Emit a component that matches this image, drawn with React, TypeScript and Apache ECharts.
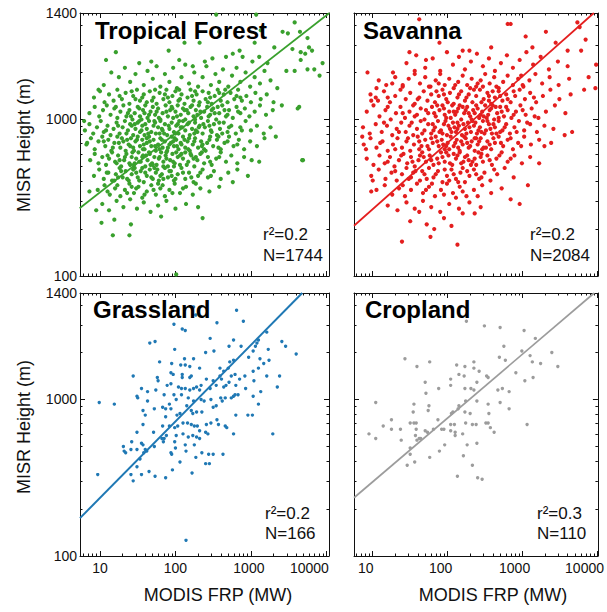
import React, { useEffect, useRef } from "react";
import * as echarts from "echarts";

// Every point is [log10 MODIS FRP (MW), log10 MISR height (m)].
const tropicalForest: number[][] = [
  [2.54,3.67],[3.07,3.67],[3.58,3.62],[2.58,3.56],[3.13,3.57],[3.42,3.56],[3.49,3.55],[3.65,3.56],[3.75,3.52],[3.77,3.46],[3.81,3.44],[3.95,3.36],[3.84,3.32],[3.75,3.32],[3.91,3.28],[3.64,3.08],[3.68,2.74],
  [3.05,3.49],[3.31,3.46],[3.55,3.45],[3.66,3.43],[3.72,3.42],[2.12,3.49],[2.32,3.49],[2.49,3.39],[2.67,3.40],[2.76,3.42],[2.85,3.44],[2.89,3.40],[3.02,3.37],[3.11,3.40],[3.22,3.36],[3.47,3.31],[3.58,3.31],[3.66,3.38],[1.21,3.43],[1.08,3.38],[1.68,3.37],[1.91,3.44],[2.05,3.38],[2.23,3.34],
  [3.41,3.09],[3.62,3.07],[3.33,2.89],[3.69,2.74],[3.11,2.73],[2.96,2.64],[2.76,2.60],[0.79,2.99],[0.83,2.85],[0.86,2.54],[0.95,2.42],[1.02,2.34],[1.19,2.36],[1.17,2.26],[1.39,2.26],[1.41,2.33],[1.81,2.38],[2.36,2.37],[2.01,2.01],
  [1.15,3.30],[1.25,3.27],[1.33,3.33],[1.40,3.24],[1.47,3.29],[1.52,3.36],[1.58,3.22],[1.63,3.31],[1.70,3.26],[1.75,3.34],[1.80,3.21],[1.86,3.29],[1.92,3.24],[1.97,3.33],[2.02,3.20],[2.08,3.27],[2.13,3.35],[2.18,3.23],[2.25,3.30],[2.30,3.21],[2.36,3.27],[2.41,3.34],[2.47,3.22],[2.53,3.29],[2.58,3.24],[2.63,3.32],[2.70,3.21],[2.75,3.28],[2.81,3.33],[2.86,3.24],[2.93,3.30],[2.99,3.21],[3.05,3.27],[3.12,3.23],[3.18,3.31],[3.26,3.25],[3.35,3.20],[1.05,3.22],[0.98,3.19],[2.39,3.37],
  [0.92,3.14],[1.00,3.18],[1.06,3.11],[1.12,3.16],[1.18,3.12],[1.23,3.19],[1.29,3.13],[1.34,3.17],[1.39,3.10],[1.44,3.15],[1.49,3.19],[1.53,3.12],[1.58,3.16],[1.62,3.11],[1.66,3.18],[1.71,3.14],[1.75,3.10],[1.79,3.17],[1.84,3.13],[1.88,3.19],[1.92,3.11],[1.96,3.15],[2.00,3.18],[2.04,3.12],[2.08,3.16],[2.12,3.10],[2.16,3.14],[2.20,3.19],[2.24,3.12],[2.28,3.16],[2.32,3.11],[2.36,3.18],[2.40,3.13],[2.44,3.17],[2.48,3.10],[2.52,3.15],[2.56,3.19],[2.60,3.12],[2.64,3.16],[2.69,3.11],[2.73,3.17],[2.78,3.13],[2.83,3.19],[2.88,3.12],[2.94,3.15],[3.00,3.11],[3.06,3.17],[3.13,3.13],[3.21,3.16],[3.30,3.11],[1.47,3.13],[1.86,3.16],[2.22,3.15],[2.58,3.17],[1.69,3.12],[2.05,3.19],[2.43,3.11],[2.81,3.15],
  [0.86,3.04],[0.93,3.08],[0.99,3.02],[1.04,3.06],[1.09,3.09],[1.14,3.03],[1.19,3.07],[1.23,3.01],[1.27,3.05],[1.31,3.09],[1.35,3.02],[1.39,3.06],[1.43,3.00],[1.46,3.04],[1.50,3.08],[1.53,3.02],[1.57,3.06],[1.60,3.09],[1.63,3.01],[1.67,3.05],[1.70,3.08],[1.73,3.03],[1.77,3.07],[1.80,3.00],[1.83,3.04],[1.87,3.09],[1.90,3.02],[1.93,3.06],[1.97,3.01],[2.00,3.05],[2.03,3.09],[2.07,3.03],[2.10,3.07],[2.13,3.00],[2.17,3.04],[2.20,3.08],[2.24,3.02],[2.27,3.06],[2.31,3.09],[2.34,3.01],[2.38,3.05],[2.42,3.08],[2.46,3.03],[2.50,3.07],[2.54,3.00],[2.58,3.04],[2.62,3.09],[2.67,3.02],[2.71,3.06],[2.76,3.01],[2.81,3.08],[2.86,3.04],[2.92,3.07],[2.98,3.02],[3.05,3.05],[3.12,3.09],[3.20,3.03],[3.29,3.06],[1.55,3.00],[1.95,3.08],[2.29,3.03],[2.65,3.06],[1.75,3.05],[2.15,3.06],[2.52,3.04],[1.37,3.04],
  [0.80,2.93],[0.86,2.97],[0.91,2.91],[0.96,2.95],[1.01,2.99],[1.05,2.92],[1.10,2.96],[1.14,2.90],[1.18,2.94],[1.22,2.98],[1.26,2.91],[1.30,2.95],[1.33,2.99],[1.37,2.93],[1.40,2.97],[1.44,2.90],[1.47,2.94],[1.50,2.98],[1.53,2.92],[1.56,2.96],[1.59,2.90],[1.62,2.94],[1.65,2.99],[1.68,2.92],[1.71,2.96],[1.74,2.91],[1.77,2.95],[1.80,2.99],[1.83,2.93],[1.86,2.97],[1.89,2.90],[1.92,2.94],[1.95,2.98],[1.98,2.92],[2.01,2.96],[2.04,2.91],[2.07,2.95],[2.10,2.99],[2.13,2.93],[2.16,2.97],[2.19,2.90],[2.22,2.94],[2.26,2.98],[2.29,2.92],[2.32,2.96],[2.36,2.91],[2.39,2.95],[2.43,2.99],[2.47,2.93],[2.51,2.97],[2.55,2.90],[2.59,2.94],[2.64,2.98],[2.69,2.92],[2.74,2.96],[2.80,2.91],[2.86,2.95],[2.93,2.99],[3.00,2.93],[3.08,2.96],[3.17,2.91],[3.26,2.95],[1.60,2.97],[1.85,2.91],[2.05,2.99],[2.25,2.91],[2.45,2.96],[1.42,2.96],[2.62,2.91],[1.72,2.99],
  [0.82,2.84],[0.88,2.88],[0.93,2.81],[0.98,2.86],[1.03,2.89],[1.07,2.83],[1.11,2.87],[1.15,2.80],[1.19,2.85],[1.23,2.89],[1.27,2.82],[1.31,2.86],[1.34,2.80],[1.38,2.84],[1.41,2.88],[1.44,2.82],[1.47,2.86],[1.50,2.89],[1.53,2.83],[1.56,2.87],[1.59,2.81],[1.62,2.85],[1.65,2.89],[1.68,2.83],[1.71,2.87],[1.74,2.80],[1.77,2.84],[1.80,2.88],[1.83,2.82],[1.86,2.86],[1.89,2.80],[1.92,2.84],[1.95,2.89],[1.98,2.83],[2.01,2.87],[2.04,2.81],[2.07,2.85],[2.10,2.89],[2.13,2.82],[2.16,2.86],[2.19,2.80],[2.23,2.84],[2.26,2.88],[2.30,2.82],[2.34,2.86],[2.38,2.81],[2.42,2.85],[2.46,2.89],[2.50,2.83],[2.55,2.87],[2.60,2.81],[2.65,2.85],[2.71,2.89],[2.77,2.83],[2.84,2.87],[2.91,2.81],[2.99,2.86],[3.08,2.83],[3.18,2.88],[1.36,2.87],[1.58,2.84],[1.79,2.81],[1.97,2.86],[2.18,2.88],[2.36,2.84],[2.57,2.89],[1.25,2.85],[2.02,2.83],
  [0.87,2.74],[0.93,2.78],[0.98,2.72],[1.03,2.76],[1.08,2.71],[1.12,2.75],[1.16,2.79],[1.20,2.73],[1.24,2.77],[1.28,2.70],[1.32,2.74],[1.35,2.78],[1.39,2.72],[1.42,2.76],[1.45,2.71],[1.48,2.75],[1.51,2.79],[1.54,2.73],[1.57,2.77],[1.60,2.70],[1.63,2.74],[1.66,2.78],[1.69,2.72],[1.72,2.76],[1.75,2.71],[1.78,2.75],[1.81,2.79],[1.84,2.73],[1.87,2.77],[1.90,2.70],[1.93,2.74],[1.96,2.78],[1.99,2.72],[2.03,2.76],[2.06,2.71],[2.10,2.75],[2.13,2.79],[2.17,2.73],[2.21,2.77],[2.25,2.70],[2.29,2.74],[2.33,2.78],[2.38,2.72],[2.43,2.76],[2.48,2.71],[2.54,2.75],[2.60,2.79],[2.67,2.73],[2.74,2.77],[2.82,2.72],[2.91,2.76],[3.01,2.74],[1.46,2.72],[1.67,2.71],[1.88,2.75],[2.08,2.78],[2.27,2.76],[1.26,2.74],[1.56,2.76],[1.98,2.70],
  [0.92,2.64],[0.99,2.68],[1.05,2.62],[1.11,2.66],[1.16,2.61],[1.21,2.65],[1.26,2.69],[1.30,2.63],[1.34,2.67],[1.38,2.61],[1.42,2.65],[1.46,2.69],[1.50,2.63],[1.54,2.67],[1.58,2.60],[1.62,2.64],[1.66,2.68],[1.70,2.62],[1.74,2.66],[1.78,2.61],[1.82,2.65],[1.86,2.69],[1.90,2.63],[1.94,2.67],[1.98,2.61],[2.03,2.65],[2.08,2.69],[2.13,2.62],[2.18,2.66],[2.24,2.60],[2.30,2.64],[2.36,2.68],[2.43,2.63],[2.51,2.67],[2.60,2.62],[2.70,2.66],[2.82,2.68],[1.48,2.66],[1.72,2.69],[1.95,2.64],[1.24,2.63],
  [0.97,2.55],[1.06,2.58],[1.13,2.52],[1.20,2.56],[1.27,2.51],[1.33,2.55],[1.39,2.59],[1.45,2.53],[1.51,2.57],[1.56,2.50],[1.62,2.54],[1.68,2.58],[1.74,2.52],[1.80,2.56],[1.86,2.51],[1.92,2.55],[1.99,2.59],[2.06,2.53],[2.14,2.57],[2.23,2.52],[2.33,2.56],[2.45,2.54],[2.58,2.57],[1.42,2.57],[1.77,2.59],
  [1.03,2.46],[1.12,2.42],[1.22,2.48],[1.31,2.44],[1.40,2.49],[1.49,2.43],[1.58,2.47],[1.67,2.41],[1.77,2.45],[1.88,2.48],[2.00,2.43],[2.14,2.46],[2.30,2.44],
  [1.21,3.08],[1.41,3.02],[1.52,3.07],[1.65,3.03],[1.78,3.01],[1.88,3.05],[2.02,3.02],[2.12,3.06],[2.22,3.09],[2.33,3.05],[2.44,3.02],[2.56,3.08],[2.69,3.03],[2.83,3.05],[1.59,3.04],[1.96,3.07],[2.26,3.00],[2.48,3.06],
  [1.08,2.93],[1.24,2.96],[1.35,2.91],[1.46,2.97],[1.55,2.93],[1.64,2.91],[1.73,2.98],[1.82,2.94],[1.91,2.96],[2.00,2.91],[2.09,2.95],[2.18,2.98],[2.27,2.93],[2.37,2.97],[2.48,2.92],[2.58,2.98],[2.71,2.95],[2.88,2.93],[1.52,2.99],[1.79,2.91],[2.03,2.97],[2.31,2.95],
  [1.05,2.86],[1.17,2.82],[1.29,2.88],[1.40,2.83],[1.49,2.87],[1.57,2.81],[1.66,2.86],[1.73,2.83],[1.82,2.87],[1.90,2.82],[1.99,2.88],[2.08,2.84],[2.17,2.81],[2.25,2.86],[2.35,2.83],[2.45,2.87],[2.57,2.82],[2.69,2.86],[2.82,2.84],[1.45,2.80],[1.94,2.85],[2.12,2.87],[1.62,2.88],[2.40,2.80],
  [1.10,2.77],[1.22,2.72],[1.33,2.76],[1.43,2.79],[1.52,2.73],[1.61,2.77],[1.70,2.71],[1.79,2.76],[1.88,2.79],[1.97,2.73],[2.06,2.77],[2.15,2.71],[2.24,2.75],[2.35,2.79],[2.46,2.73],[2.58,2.76],[1.40,2.71],[1.84,2.70],[2.01,2.79],[1.65,2.79],[2.20,2.78],
  [1.09,2.66],[1.19,2.61],[1.28,2.67],[1.36,2.62],[1.44,2.68],[1.52,2.61],[1.60,2.66],[1.68,2.63],[1.76,2.68],[1.84,2.62],[1.92,2.67],[2.00,2.62],[2.10,2.66],[2.21,2.63],[2.33,2.66],[2.47,2.64],[1.56,2.69],[1.80,2.64],
  [1.10,2.54],[1.23,2.58],[1.36,2.53],[1.48,2.56],[1.59,2.52],[1.71,2.55],[1.83,2.58],[1.96,2.53],[2.10,2.56],[2.27,2.59],
  [1.26,3.15],[1.42,3.18],[1.56,3.14],[1.73,3.19],[1.90,3.14],[2.06,3.13],[2.26,3.18],[2.46,3.14],[2.66,3.19],[2.86,3.14]
];

const savanna: number[][] = [
  [1.39,2.22],[2.13,2.20],[1.77,2.25],[1.82,2.30],[2.20,2.40],[2.36,2.40],[0.93,3.30],[0.86,2.89],[0.91,2.81],[0.98,2.54],[1.00,2.61],[2.80,3.61],[2.84,3.61],[1.62,3.64],[3.31,3.56],[3.73,3.62],[3.76,3.59],[3.78,3.44],[3.98,3.35],[3.97,3.20],[3.88,3.27],[3.82,3.19],[3.66,2.92],[3.56,2.90],[3.29,2.83],[3.22,2.72],[3.07,2.58],[2.96,2.46],[2.84,2.49],[1.49,3.43],[1.71,3.38],[1.56,3.31],[1.27,3.30],[1.26,3.23],[1.04,3.14],[0.98,3.12],[1.05,3.20],[1.20,3.14],[3.61,3.69],[1.89,3.49],[2.29,3.44],[2.58,3.46],[3.04,3.53],[3.13,3.46],[3.44,3.49],[3.60,3.44],[3.84,3.51],
  [1.45,3.36],[1.58,3.41],[1.70,3.33],[1.80,3.39],[1.90,3.31],[1.99,3.43],[2.07,3.35],[2.15,3.40],[2.23,3.32],[2.31,3.37],[2.39,3.42],[2.47,3.34],[2.55,3.39],[2.63,3.31],[2.71,3.36],[2.79,3.41],[2.87,3.33],[2.96,3.38],[3.05,3.43],[3.14,3.35],[3.24,3.40],[3.35,3.32],[3.47,3.37],[3.60,3.34],[2.20,3.44],
  [1.08,3.25],[1.18,3.22],[1.30,3.27],[1.40,3.21],[1.48,3.26],[1.56,3.29],[1.63,3.23],[1.70,3.27],[1.77,3.21],[1.84,3.25],[1.90,3.29],[1.96,3.22],[2.02,3.26],[2.08,3.20],[2.14,3.24],[2.20,3.28],[2.26,3.22],[2.32,3.26],[2.38,3.21],[2.44,3.25],[2.50,3.29],[2.56,3.23],[2.62,3.27],[2.68,3.20],[2.74,3.24],[2.80,3.28],[2.87,3.22],[2.94,3.26],[3.01,3.21],[3.09,3.25],[3.17,3.29],[3.26,3.23],[3.36,3.27],[3.48,3.22],[3.62,3.26],[2.47,3.21],[1.88,3.23],[2.98,3.28],
  [0.97,3.16],[1.07,3.12],[1.15,3.18],[1.23,3.11],[1.30,3.15],[1.37,3.19],[1.44,3.13],[1.50,3.17],[1.56,3.10],[1.62,3.14],[1.68,3.18],[1.73,3.12],[1.78,3.16],[1.83,3.11],[1.88,3.15],[1.93,3.19],[1.98,3.13],[2.03,3.17],[2.08,3.10],[2.13,3.14],[2.18,3.18],[2.23,3.12],[2.28,3.16],[2.33,3.11],[2.38,3.15],[2.43,3.19],[2.48,3.13],[2.53,3.17],[2.58,3.10],[2.63,3.14],[2.68,3.18],[2.73,3.12],[2.78,3.16],[2.84,3.11],[2.90,3.15],[2.96,3.19],[3.03,3.13],[3.10,3.17],[3.18,3.11],[3.27,3.15],[3.37,3.19],[3.49,3.13],[3.64,3.16],[2.35,3.19],[2.55,3.12],[2.00,3.11],[2.70,3.15],[1.85,3.18],[2.15,3.16],[2.45,3.11],[2.88,3.18],
  [0.92,3.05],[1.01,3.09],[1.09,3.02],[1.17,3.06],[1.24,3.00],[1.31,3.04],[1.37,3.08],[1.43,3.01],[1.49,3.05],[1.54,3.09],[1.59,3.03],[1.64,3.07],[1.69,3.00],[1.74,3.04],[1.79,3.08],[1.84,3.02],[1.89,3.06],[1.93,3.09],[1.98,3.01],[2.02,3.05],[2.06,3.09],[2.10,3.03],[2.14,3.07],[2.18,3.00],[2.22,3.04],[2.26,3.08],[2.30,3.02],[2.34,3.06],[2.38,3.09],[2.42,3.01],[2.46,3.05],[2.50,3.09],[2.54,3.03],[2.58,3.07],[2.62,3.00],[2.66,3.04],[2.70,3.08],[2.75,3.02],[2.80,3.06],[2.85,3.01],[2.91,3.05],[2.97,3.09],[3.04,3.03],[3.12,3.07],[3.21,3.01],[3.31,3.05],[3.43,3.09],[3.57,3.04],[2.24,3.06],[2.44,3.03],[2.64,3.08],[2.08,3.05],[1.86,3.09],[2.52,3.01],[2.36,3.04],[2.72,3.05],[1.96,3.03],[2.16,3.09],
  [0.87,2.95],[0.96,2.91],[1.04,2.97],[1.12,2.92],[1.19,2.96],[1.26,2.90],[1.32,2.94],[1.38,2.98],[1.44,2.92],[1.49,2.96],[1.54,2.90],[1.59,2.94],[1.64,2.99],[1.69,2.93],[1.74,2.97],[1.78,2.91],[1.83,2.95],[1.87,2.99],[1.91,2.93],[1.95,2.97],[1.99,2.90],[2.03,2.94],[2.07,2.98],[2.11,2.92],[2.15,2.96],[2.19,2.90],[2.23,2.94],[2.27,2.98],[2.31,2.92],[2.35,2.96],[2.39,2.91],[2.43,2.95],[2.47,2.99],[2.51,2.93],[2.55,2.97],[2.59,2.91],[2.63,2.95],[2.68,2.99],[2.73,2.93],[2.78,2.97],[2.83,2.91],[2.89,2.95],[2.95,2.99],[3.02,2.93],[3.10,2.97],[3.19,2.92],[3.29,2.96],[3.41,2.94],[2.21,2.97],[2.41,2.93],[2.61,2.97],[2.01,2.96],[1.81,2.93],[2.33,2.99],[2.49,2.91],[2.13,2.94],[1.93,2.91],[2.70,2.92],
  [0.88,2.84],[0.97,2.88],[1.05,2.82],[1.13,2.86],[1.20,2.80],[1.27,2.84],[1.33,2.88],[1.39,2.82],[1.45,2.86],[1.50,2.80],[1.55,2.84],[1.60,2.89],[1.65,2.83],[1.70,2.87],[1.75,2.81],[1.80,2.85],[1.84,2.89],[1.88,2.83],[1.92,2.87],[1.96,2.81],[2.00,2.85],[2.04,2.89],[2.08,2.83],[2.12,2.87],[2.16,2.80],[2.20,2.84],[2.24,2.88],[2.28,2.82],[2.32,2.86],[2.36,2.80],[2.40,2.84],[2.44,2.88],[2.48,2.82],[2.53,2.86],[2.58,2.81],[2.63,2.85],[2.68,2.89],[2.74,2.83],[2.80,2.87],[2.87,2.81],[2.94,2.85],[3.02,2.89],[3.11,2.84],[3.22,2.87],[3.38,2.85],[2.18,2.86],[2.38,2.88],[1.98,2.83],[2.56,2.84],[1.78,2.88],[2.26,2.85],[2.46,2.81],[1.62,2.81],
  [0.92,2.75],[1.01,2.71],[1.09,2.77],[1.16,2.72],[1.23,2.76],[1.29,2.70],[1.35,2.74],[1.41,2.78],[1.46,2.72],[1.51,2.76],[1.56,2.70],[1.61,2.74],[1.66,2.79],[1.71,2.73],[1.76,2.77],[1.81,2.71],[1.86,2.75],[1.91,2.79],[1.96,2.73],[2.01,2.77],[2.06,2.71],[2.11,2.75],[2.16,2.79],[2.21,2.73],[2.26,2.77],[2.31,2.71],[2.36,2.75],[2.41,2.79],[2.47,2.73],[2.53,2.77],[2.59,2.71],[2.65,2.75],[2.72,2.79],[2.80,2.73],[2.89,2.77],[2.99,2.72],[3.10,2.76],[1.88,2.72],[2.08,2.78],[2.28,2.74],[1.68,2.76],[2.44,2.76],[2.18,2.72],
  [0.98,2.64],[1.08,2.68],[1.17,2.62],[1.25,2.66],[1.32,2.61],[1.39,2.65],[1.45,2.69],[1.51,2.63],[1.57,2.67],[1.63,2.61],[1.69,2.65],[1.75,2.69],[1.81,2.63],[1.87,2.67],[1.93,2.60],[1.99,2.64],[2.05,2.68],[2.11,2.62],[2.17,2.66],[2.23,2.60],[2.29,2.64],[2.35,2.68],[2.42,2.62],[2.49,2.66],[2.57,2.61],[2.66,2.65],[2.76,2.69],[2.88,2.63],[1.72,2.62],[2.02,2.61],[2.20,2.69],[1.54,2.66],[2.38,2.65],
  [1.05,2.55],[1.16,2.58],[1.26,2.52],[1.35,2.56],[1.43,2.51],[1.51,2.55],[1.59,2.59],[1.67,2.53],[1.75,2.57],[1.83,2.51],[1.91,2.55],[1.99,2.59],[2.07,2.53],[2.16,2.57],[2.25,2.51],[2.35,2.55],[2.46,2.58],[2.58,2.53],[2.72,2.56],[1.79,2.59],[2.11,2.50],
  [1.20,2.45],[1.33,2.42],[1.45,2.47],[1.56,2.43],[1.67,2.48],[1.78,2.44],[1.90,2.41],[2.02,2.46],[2.15,2.43],[2.29,2.47],[2.44,2.44],[1.62,2.41],
  [1.50,2.35],[1.72,2.33],[1.95,2.37],[2.05,2.32],
  [1.40,3.22],[1.60,3.13],[1.75,3.21],[1.95,3.16],[2.10,3.22],[2.25,3.14],[2.40,3.23],[2.55,3.15],[2.65,3.21],[2.80,3.13],[3.00,3.22],[3.15,3.14],[2.30,3.20],[2.60,3.18],
  [1.20,3.08],[1.40,3.04],[1.56,3.02],[1.71,3.06],[1.82,3.04],[1.95,3.07],[2.04,3.01],[2.12,3.05],[2.20,3.08],[2.28,3.04],[2.40,3.07],[2.48,3.02],[2.56,3.06],[2.68,3.01],[2.78,3.08],[2.88,3.03],[3.00,3.06],[3.16,3.02],[2.32,3.00],[2.60,3.09],
  [1.15,2.98],[1.35,2.92],[1.52,2.98],[1.66,2.91],[1.80,2.97],[1.89,2.92],[1.97,2.99],[2.05,2.92],[2.13,2.98],[2.25,2.91],[2.37,2.98],[2.45,2.92],[2.53,2.99],[2.65,2.91],[2.76,2.95],[2.92,2.92],[3.06,2.98],[2.29,2.95],[2.57,2.94],[2.09,2.95],
  [1.10,2.85],[1.30,2.81],[1.47,2.88],[1.62,2.86],[1.73,2.83],[1.86,2.86],[1.94,2.84],[2.02,2.81],[2.10,2.85],[2.22,2.89],[2.30,2.83],[2.42,2.86],[2.51,2.82],[2.61,2.88],[2.71,2.85],[2.84,2.88],[2.98,2.83],[2.14,2.82],[2.36,2.88],
  [1.20,2.73],[1.38,2.77],[1.53,2.73],[1.63,2.77],[1.78,2.74],[1.93,2.76],[2.03,2.72],[2.13,2.77],[2.23,2.76],[2.33,2.73],[2.45,2.78],[2.56,2.74],[2.69,2.77],[2.84,2.75],[1.98,2.79],[2.38,2.71],
  [1.30,2.67],[1.48,2.62],[1.66,2.67],[1.84,2.65],[1.96,2.68],[2.08,2.65],[2.26,2.67],[2.45,2.63],[2.62,2.68],[2.14,2.60],
  [1.40,2.58],[1.71,2.55],[1.95,2.52],[2.20,2.54],[2.40,2.51]
];

const grassland: number[][] = [
  [2.24,3.59],[2.27,3.54],[2.81,3.57],[2.90,3.50],[1.98,3.48],[2.55,3.49],[2.09,3.45],[2.13,3.44],[1.66,3.36],[1.73,3.37],[2.46,3.39],[2.77,3.38],[3.21,3.43],[3.10,3.38],[3.41,3.37],[3.46,3.34],[3.60,3.29],[1.99,3.32],[2.40,3.30],[2.51,3.31],[2.71,3.34],[2.87,3.34],[3.06,3.34],[3.03,3.31],[3.08,3.36],[3.23,3.32],
  [2.12,3.26],[2.24,3.26],[2.77,3.25],[2.97,3.27],[3.12,3.26],[3.24,3.25],[3.17,3.23],[1.79,3.24],[1.95,3.23],[2.07,3.22],[2.13,3.22],[2.19,3.21],[2.32,3.20],[2.59,3.20],[2.70,3.20],[2.72,3.24],[1.44,3.15],[1.97,3.16],[2.09,3.16],[2.21,3.15],[2.09,3.14],[2.19,3.14],[2.64,3.18],[2.74,3.15],[2.79,3.16],[2.59,3.15],[2.61,3.13],[2.71,3.11],[2.85,3.13],[2.92,3.15],[3.03,3.18],[3.10,3.20],[3.21,3.15],[3.38,3.15],[3.04,3.12],
  [1.76,3.14],[1.77,3.12],[1.89,3.09],[1.94,3.10],[1.94,3.17],[2.04,3.08],[2.08,3.07],[2.13,3.07],[2.28,3.08],[2.24,3.07],[2.19,3.06],[2.41,3.13],[2.50,3.12],[1.55,3.07],[1.63,3.05],[1.74,3.06],[1.85,3.03],[1.98,3.03],[2.08,3.03],[2.17,3.01],[2.32,3.06],[2.34,3.09],[2.46,3.07],[2.54,3.09],[2.64,3.08],[2.67,3.09],[2.80,3.09],[2.74,3.01],[2.83,3.03],[2.93,3.07],[3.13,3.05],[3.35,3.08],
  [1.49,3.02],[1.50,3.01],[0.99,2.98],[1.19,2.97],[1.63,2.99],[1.92,2.97],[2.01,3.00],[2.15,2.96],[2.24,2.99],[2.34,3.00],[2.38,2.99],[2.47,3.00],[2.60,3.01],[2.77,3.02],[2.79,3.03],[3.03,3.02],
  [1.57,2.93],[1.60,2.90],[1.72,2.94],[1.83,2.95],[1.87,2.94],[1.94,2.94],[1.87,2.89],[2.02,2.90],[2.06,2.91],[2.21,2.93],[2.23,2.91],[2.28,2.92],[2.35,2.92],[2.50,2.95],[2.54,2.96],[2.62,2.99],[2.66,3.01],[2.80,2.90],[2.96,2.90],[3.02,2.90],[3.10,2.97],
  [1.49,2.79],[1.57,2.84],[1.71,2.79],[1.83,2.83],[1.92,2.83],[1.99,2.82],[2.03,2.83],[2.10,2.85],[2.16,2.85],[2.21,2.84],[2.25,2.83],[2.29,2.83],[2.32,2.80],[2.41,2.84],[2.47,2.85],[2.55,2.87],[2.57,2.84],[2.66,2.83],[2.68,2.82],[2.77,2.78],[3.29,2.78],
  [1.88,2.77],[2.01,2.77],[2.10,2.78],[2.17,2.76],[2.23,2.77],[2.28,2.76],[2.32,2.75],[2.40,2.79],[2.43,2.78],[1.82,2.75],[1.85,2.75],[1.84,2.73],
  [1.31,2.70],[1.32,2.67],[1.41,2.68],[1.42,2.73],[1.49,2.68],[1.55,2.72],[1.57,2.71],[1.58,2.66],[1.60,2.68],[1.62,2.67],[1.72,2.70],[1.99,2.73],[2.00,2.69],[2.13,2.71],[2.25,2.71],[2.35,2.66],[2.44,2.65],[2.50,2.65],[2.63,2.65],[1.94,2.66],[1.95,2.65],[2.14,2.67],[2.27,2.63],[2.40,2.59],[2.45,2.59],[2.06,2.60],
  [1.53,2.62],[1.49,2.57],[1.41,2.52],[1.55,2.52],[1.65,2.54],[1.73,2.51],[1.87,2.50],[1.96,2.55],[2.22,2.53],[1.44,2.48],[0.97,2.52],[2.14,2.10],[1.34,2.66]
];

const cropland: number[][] = [
  [2.25,3.50],[2.49,3.47],[2.70,3.46],[3.02,3.44],[3.17,3.39],[2.75,3.34],[2.99,3.31],[3.39,3.30],[3.10,3.28],[1.43,3.26],[1.76,3.24],[2.35,3.24],[2.69,3.27],[2.77,3.25],[3.13,3.24],[3.24,3.23],[3.47,3.21],
  [1.59,3.21],[2.12,3.22],[2.23,3.21],[2.35,3.20],[2.42,3.18],[2.15,3.16],[2.22,3.15],[2.52,3.15],[2.54,3.14],[2.91,3.17],[3.14,3.14],[3.03,3.12],[2.39,3.11],[2.04,3.13],[1.70,3.11],[1.88,3.07],[2.04,3.09],[2.23,3.07],[2.31,3.07],[2.35,3.06],[2.67,3.06],[2.73,3.07],[2.82,3.05],[1.71,3.04],
  [2.24,2.99],[2.39,2.99],[1.04,2.98],[1.55,2.97],[1.75,2.96],[1.54,2.92],[1.74,2.93],[2.07,2.92],[2.14,2.94],[2.54,2.97],[2.55,2.91],[2.70,2.98],[2.82,2.94],[2.05,2.91],[2.23,2.92],[2.15,2.96],[2.30,2.91],
  [1.50,2.85],[1.55,2.85],[1.58,2.85],[1.87,2.87],[2.04,2.84],[2.09,2.84],[2.24,2.85],[2.33,2.84],[2.38,2.84],[2.51,2.85],[2.54,2.85],[1.14,2.83],[1.25,2.87],[1.37,2.81],[1.25,2.81],[1.04,2.75],[0.95,2.78],[1.58,2.81],[1.70,2.80],[1.73,2.79],[1.81,2.81],[1.92,2.81],[1.95,2.81],[2.04,2.80],[2.10,2.79],[2.10,2.77],[2.20,2.78],[2.57,2.82],[2.62,2.79],[3.06,2.84],
  [1.38,2.74],[1.57,2.77],[1.59,2.74],[1.62,2.75],[1.64,2.75],[1.50,2.69],[1.50,2.65],[1.56,2.60],[1.46,2.58],[1.76,2.63],[1.89,2.67],[1.96,2.71],[2.21,2.64],[2.26,2.71],[2.33,2.58],[2.39,2.72],[2.13,2.51],[2.40,2.50],[2.46,2.49]
];

const panelNames = ["Tropical Forest", "Savanna", "Grassland", "Cropland"];
const panelData = [tropicalForest, savanna, grassland, cropland];
const panelColors = ["#39a02d", "#e41e1e", "#1f78b4", "#9c9c9c"];
const r2Values = ["0.2", "0.2", "0.2", "0.3"];
const nValues = ["1744", "2084", "166", "110"];

// Regression lines, endpoints in log10 units
const fitTropical = [[0.73, 2.433], [4.04, 3.68]];
const fitSavanna = [[0.75, 2.321], [3.95, 3.68]];
const fitGrassland = [[0.735, 2.242], [3.68, 3.68]];
const fitCropland = [[0.75, 2.372], [3.956, 3.68]];
const fitLines = [fitTropical, fitSavanna, fitGrassland, fitCropland];

// Axis ticks (plain units)
const xTickValues = [10, 100, 1000, 10000];
const xTickLabels = ["10", "100", "1000", "10000"];
const xMinorValues = [6, 7, 8, 9, 20, 30, 40, 50, 60, 70, 80, 90, 200, 300, 400, 500, 600, 700, 800, 900, 2000, 3000, 4000, 5000, 6000, 7000, 8000, 9000];
const yTickValues = [100, 1000, 4786];
const yTickLabels = ["100", "1000", "1400"];
const yMinorValues = [200, 300, 400, 500, 600, 700, 800, 900, 2000, 3000, 4000];

const FONT = "'Liberation Sans', Arial, Helvetica, sans-serif";

export default function App() {
  const ref = useRef<HTMLDivElement>(null);

  useEffect(() => {
    if (!ref.current) return;
    const chart = echarts.init(ref.current, undefined, { renderer: "svg" });

    const grids = [
      { left: 80, top: 13, width: 249, height: 263 },
      { left: 354, top: 13, width: 244, height: 263 },
      { left: 80, top: 293, width: 249, height: 263 },
      { left: 354, top: 293, width: 244, height: 263 },
    ];
    const xRanges = [[0.735, 4.035], [0.75, 4.005], [0.735, 4.035], [0.75, 4.005]];
    const yRange = [2, 3.68];
    const xShift = [[0, 0, 2, 17], [7, 7, 8, 13], [0, 0, 2, 17], [7, 7, 8, 13]];

    const xMajor = xTickValues.map(Math.log10);
    const xMinor = xMinorValues.map(Math.log10);
    const yMajor = yTickValues.map(Math.log10);
    const yMinor = yMinorValues.map(Math.log10);
    const lineStyle = { color: "#111", width: 1 };

    const nearest = (arr: number[], v: number) => {
      let best = 0;
      arr.forEach((a, k) => { if (Math.abs(a - v) < Math.abs(arr[best] - v)) best = k; });
      return best;
    };

    const xAxes: any[] = [];
    const yAxes: any[] = [];
    for (let i = 0; i < 4; i++) {
      const [xmin, xmax] = xRanges[i];
      const rich: any = {};
      xShift[i].forEach((s, k) => {
        rich["k" + k] = { fontSize: 14, fontFamily: FONT, color: "#111", padding: [0, 2 * s, 0, 0] };
      });
      const baseX = { gridIndex: i, type: "value", min: xmin, max: xmax, splitLine: { show: false } };
      xAxes.push({
        ...baseX, position: "bottom",
        axisLine: { show: true, onZero: false, lineStyle },
        axisTick: { show: true, inside: true, length: 5, customValues: xMajor, lineStyle },
        axisLabel: {
          show: i >= 2, customValues: xMajor, margin: 5, fontSize: 14, fontFamily: FONT, color: "#111",
          formatter: (v: number) => { const k = nearest(xMajor, v); return `{k${k}|${xTickLabels[k]}}`; },
          rich,
        },
      });
      xAxes.push({
        ...baseX, position: "bottom",
        axisLine: { show: false, onZero: false },
        axisTick: { show: true, inside: true, length: 2.5, customValues: xMinor, lineStyle },
        axisLabel: { show: false },
      });
      xAxes.push({
        ...baseX, position: "top",
        axisLine: { show: true, onZero: false, lineStyle },
        axisTick: { show: true, inside: true, length: 5, customValues: xMajor, lineStyle },
        axisLabel: { show: false },
      });
      xAxes.push({
        ...baseX, position: "top",
        axisLine: { show: false, onZero: false },
        axisTick: { show: true, inside: true, length: 2.5, customValues: xMinor, lineStyle },
        axisLabel: { show: false },
      });

      const baseY = { gridIndex: i, type: "value", min: yRange[0], max: yRange[1], splitLine: { show: false } };
      yAxes.push({
        ...baseY, position: "left",
        axisLine: { show: true, onZero: false, lineStyle },
        axisTick: { show: true, inside: true, length: 5, customValues: yMajor, lineStyle },
        axisLabel: {
          show: i % 2 === 0, customValues: yMajor, margin: 3, fontSize: 14, fontFamily: FONT, color: "#111",
          formatter: (v: number) => yTickLabels[nearest(yMajor, v)],
        },
      });
      yAxes.push({
        ...baseY, position: "left",
        axisLine: { show: false, onZero: false },
        axisTick: { show: true, inside: true, length: 2.5, customValues: yMinor, lineStyle },
        axisLabel: { show: false },
      });
      yAxes.push({
        ...baseY, position: "right",
        axisLine: { show: true, onZero: false, lineStyle },
        axisTick: { show: true, inside: true, length: 5, customValues: yMajor, lineStyle },
        axisLabel: { show: false },
      });
      yAxes.push({
        ...baseY, position: "right",
        axisLine: { show: false, onZero: false },
        axisTick: { show: true, inside: true, length: 2.5, customValues: yMinor, lineStyle },
        axisLabel: { show: false },
      });
    }

    const series: any[] = [];
    for (let i = 0; i < 4; i++) {
      series.push({
        type: "scatter",
        name: panelNames[i],
        xAxisIndex: i * 4,
        yAxisIndex: i * 4,
        data: panelData[i],
        symbol: "circle",
        symbolSize: i < 2 ? 4.2 : 3.4,
        itemStyle: { color: panelColors[i], opacity: 1 },
        silent: true,
      });
      series.push({
        type: "line",
        xAxisIndex: i * 4,
        yAxisIndex: i * 4,
        data: fitLines[i],
        showSymbol: false,
        symbol: "none",
        clip: true,
        lineStyle: { color: panelColors[i], width: i === 2 ? 2 : 1.7 },
        silent: true,
        z: 3,
      });
    }

    const titlePos = [[95, 30], [363, 30], [93, 309], [365, 309]];
    const statPos = [[263, 234, 255], [530, 234, 255], [265, 513, 533], [537, 513, 533]];
    const graphic: any[] = [];
    for (let i = 0; i < 4; i++) {
      graphic.push({
        type: "text", x: titlePos[i][0], y: titlePos[i][1], z: 10,
        style: { text: panelNames[i], fill: "#000", fontSize: 24, fontWeight: "bold", fontFamily: FONT, textAlign: "left", textVerticalAlign: "middle", align: "left", verticalAlign: "middle" },
      });
      graphic.push({
        type: "text", x: statPos[i][0], y: statPos[i][1], z: 10,
        style: { text: `r²=${r2Values[i]}`, fill: "#111", fontSize: 17, fontFamily: FONT, textAlign: "left", textVerticalAlign: "middle", align: "left", verticalAlign: "middle" },
      });
      graphic.push({
        type: "text", x: statPos[i][0], y: statPos[i][2], z: 10,
        style: { text: `N=${nValues[i]}`, fill: "#111", fontSize: 17, fontFamily: FONT, textAlign: "left", textVerticalAlign: "middle", align: "left", verticalAlign: "middle" },
      });
    }
    [[24, 145], [24, 427]].forEach(([x, y]) => {
      graphic.push({
        type: "text", x, y, rotation: Math.PI / 2,
        style: { text: "MISR Height (m)", fill: "#111", fontSize: 18, fontFamily: FONT, textAlign: "center", textVerticalAlign: "middle", align: "center", verticalAlign: "middle" },
      });
    });
    [[218, 595], [493, 595]].forEach(([x, y]) => {
      graphic.push({
        type: "text", x, y,
        style: { text: "MODIS FRP (MW)", fill: "#111", fontSize: 18, fontFamily: FONT, textAlign: "center", textVerticalAlign: "middle", align: "center", verticalAlign: "middle" },
      });
    });

    chart.setOption({
      animation: false,
      backgroundColor: "#ffffff",
      grid: grids.map((g) => ({ ...g, containLabel: false })),
      xAxis: xAxes,
      yAxis: yAxes,
      series,
      graphic,
    });

    return () => chart.dispose();
  }, []);

  return (
    <div
      ref={ref}
      style={{ position: "fixed", left: 0, top: 0, width: 607, height: 612, background: "#fff" }}
    />
  );
}
